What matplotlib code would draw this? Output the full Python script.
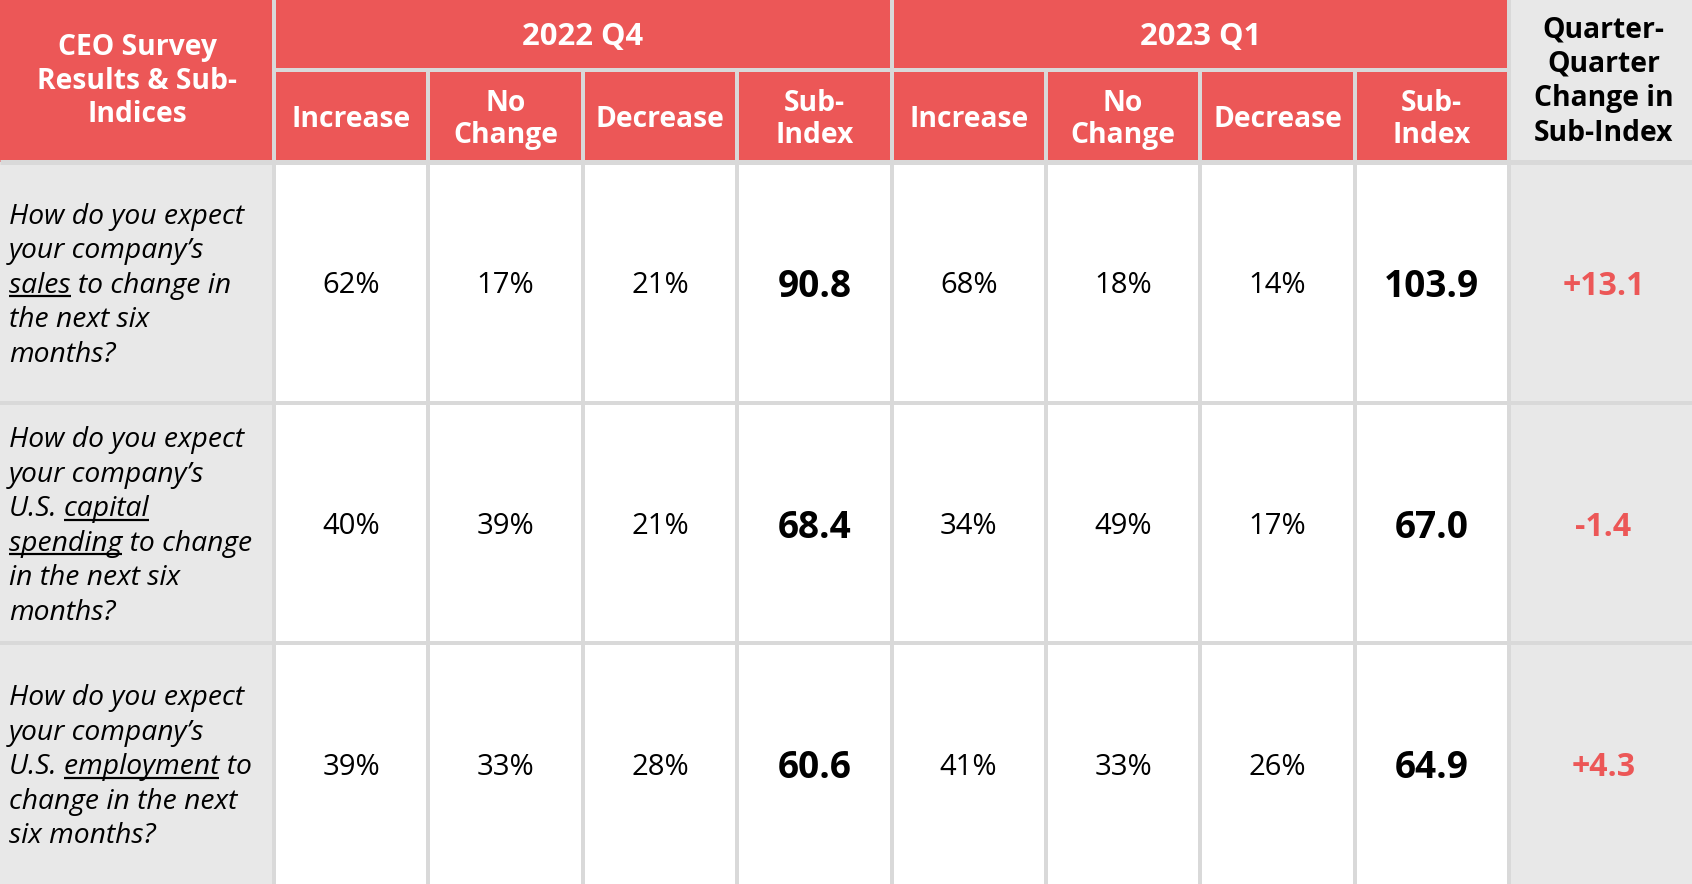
import matplotlib
matplotlib.use("Agg")
import matplotlib.pyplot as plt
from matplotlib.patches import Rectangle

# ---------------- data ----------------
title_header = ["CEO Survey", "Results & Sub-", "Indices"]
quarters = ["2022 Q4", "2023 Q1"]
sub_headers = [["Increase"], ["No", "Change"], ["Decrease"], ["Sub-", "Index"]]
change_header = ["Quarter-", "Quarter", "Change in", "Sub-Index"]

# question lines: list of lines, each line a list of (text, underlined)
questions = [
    [[("How do you expect", False)],
     [("your company\u2019s", False)],
     [("sales", True), (" to change in", False)],
     [("the next six", False)],
     [("months?", False)]],
    [[("How do you expect", False)],
     [("your company\u2019s", False)],
     [("U.S. ", False), ("capital", True)],
     [("spending", True), (" to change", False)],
     [("in the next six", False)],
     [("months?", False)]],
    [[("How do you expect", False)],
     [("your company\u2019s", False)],
     [("U.S. ", False), ("employment", True), (" to", False)],
     [("change in the next", False)],
     [("six months?", False)]],
]

q4_increase = [62, 40, 39]
q4_nochange = [17, 39, 33]
q4_decrease = [21, 21, 28]
q4_subindex = [90.8, 68.4, 60.6]
q1_increase = [68, 34, 41]
q1_nochange = [18, 49, 33]
q1_decrease = [14, 17, 26]
q1_subindex = [103.9, 67.0, 64.9]
qq_change = [13.1, -1.4, 4.3]

# ---------------- style ----------------
W, H = 1692, 884
RED = "#EC5757"
GRID = "#D9D9D9"
LIGHT = "#E8E8E8"
FONT = "Open Sans"
PX = 0.72  # px -> pt at dpi 100

first_w = 274
last_w = 183
n_mid = 8
mid_w = (W - first_w - last_w) / n_mid
hdr1_h = 70
hdr2_h = 92
hdr_h = hdr1_h + hdr2_h
n_rows = len(questions)
row_h = (H - hdr_h) / n_rows
lw = 4 * PX

col_x = [0, first_w] + [first_w + mid_w * (i + 1) for i in range(n_mid)] + [W]
last_xc = col_x[-2] + last_w / 2 + 3

fig = plt.figure(figsize=(W / 100, H / 100), dpi=100)
ax = fig.add_axes([0, 0, 1, 1])
ax.set_xlim(0, W)
ax.set_ylim(H, 0)
ax.axis("off")

# backgrounds
ax.add_patch(Rectangle((0, 0), first_w, hdr_h, color=RED, lw=0))
ax.add_patch(Rectangle((first_w, 0), mid_w * n_mid, hdr_h, color=RED, lw=0))
ax.add_patch(Rectangle((col_x[-2], 0), last_w, H, color=LIGHT, lw=0))
ax.add_patch(Rectangle((0, hdr_h), first_w, H - hdr_h, color=LIGHT, lw=0))
ax.add_patch(Rectangle((first_w, hdr_h), mid_w * n_mid, H - hdr_h, color="white", lw=0))

# grid lines
for i, x in enumerate(col_x[1:-1], start=1):
    if i in (1, 5, 9):
        ax.plot([x, x], [0, H], color=GRID, lw=lw, solid_capstyle="butt")
    else:
        ax.plot([x, x], [hdr1_h, H], color=GRID, lw=lw, solid_capstyle="butt")
ax.plot([first_w, col_x[-2]], [hdr1_h, hdr1_h], color=GRID, lw=lw, solid_capstyle="butt")
ax.plot([0, W], [hdr_h, hdr_h], color=GRID, lw=5 * PX, solid_capstyle="butt")
for r in range(1, n_rows):
    y = hdr_h + r * row_h
    ax.plot([0, W], [y, y], color=GRID, lw=lw, solid_capstyle="butt")

HDR_FS = 28.3 * PX
QTR_FS = 31 * PX
VAL_FS = 29.3 * PX
SUB_FS = 37 * PX
CHG_FS = 32 * PX
Q_FS = 28.3 * PX


def lines_centered(x, yc, lines, spacing, fs, color, weight="bold", style="normal"):
    n = len(lines)
    for i, t in enumerate(lines):
        y = yc + (i - (n - 1) / 2) * spacing
        ax.text(x, y, t, ha="center", va="center_baseline", fontsize=fs,
                color=color, fontweight=weight, fontstyle=style, family=FONT)


# header texts
lines_centered(first_w / 2, 78, title_header, 33.5, HDR_FS, "white")
for qi, q in enumerate(quarters):
    xc = first_w + mid_w * (4 * qi + 2)
    lines_centered(xc, hdr1_h / 2 - 2, [q], 33, QTR_FS, "white")
    for si, sh in enumerate(sub_headers):
        xc2 = first_w + mid_w * (4 * qi + si + 0.5)
        lines_centered(xc2, hdr1_h + hdr2_h / 2, sh, 32.5, HDR_FS, "white")
lines_centered(last_xc, 78, change_header, 34.5, HDR_FS, "black")

# questions with underlines
renderer = fig.canvas.get_renderer()


def text_width(s):
    t = ax.text(0, 0, s, fontsize=Q_FS, fontstyle="italic", family=FONT)
    bb = t.get_window_extent(renderer)
    t.remove()
    return bb.width


Q_SP = 34.5
for r, qlines in enumerate(questions):
    yc = hdr_h + (r + 0.5) * row_h
    n = len(qlines)
    for i, segs in enumerate(qlines):
        y = yc + (i - (n - 1) / 2) * Q_SP
        full = "".join(s for s, _ in segs)
        x0 = 9
        ax.text(x0, y, full, ha="left", va="center_baseline", fontsize=Q_FS,
                fontstyle="italic", family=FONT, color="black")
        prefix = ""
        for s, ul in segs:
            if ul:
                w_end = text_width(prefix + s)
                w_word = text_width(s)
                xs = x0 + w_end - w_word
                xe = x0 + w_end
                ax.plot([xs, xe], [y + 14, y + 14], color="black", lw=2.2 * PX,
                        solid_capstyle="butt")
            prefix += s

# values
value_cols = [q4_increase, q4_nochange, q4_decrease, q4_subindex,
              q1_increase, q1_nochange, q1_decrease, q1_subindex]
for c, vals in enumerate(value_cols):
    xc = first_w + mid_w * (c + 0.5)
    for r, v in enumerate(vals):
        yc = hdr_h + (r + 0.5) * row_h
        if c % 4 == 3:
            ax.text(xc, yc, f"{v:.1f}", ha="center", va="center_baseline",
                    fontsize=SUB_FS, fontweight="bold", family=FONT, color="black")
        else:
            ax.text(xc, yc, f"{v}%", ha="center", va="center_baseline",
                    fontsize=VAL_FS, family=FONT, color="black")

for r, v in enumerate(qq_change):
    yc = hdr_h + (r + 0.5) * row_h
    ax.text(last_xc, yc, f"{v:+.1f}", ha="center", va="center_baseline",
            fontsize=CHG_FS, fontweight="bold", family=FONT, color=RED)

fig.savefig("out.png", dpi=100)
